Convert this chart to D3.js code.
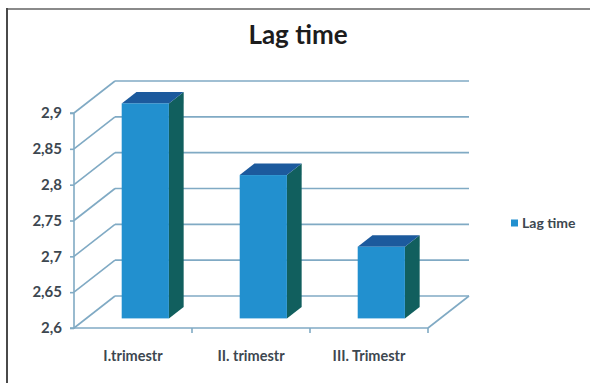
<!DOCTYPE html>
<html>
<head>
<meta charset="utf-8">
<script src="https://cdn.jsdelivr.net/npm/d3@7"></script>
<style>
  html, body { margin: 0; padding: 0; background: #fff; }
  svg { display: block; }
  text { font-family: Lato, "Open Sans", sans-serif; }
</style>
</head>
<body>
<svg id="chart" width="590" height="383"></svg>
<script>
// Chart data
const categories = ["I.trimestr", "II. trimestr", "III. Trimestr"];
const lagTime = [2.9, 2.8, 2.7];
const yTicks = [2.6, 2.65, 2.7, 2.75, 2.8, 2.85, 2.9];
const yTickLabels = ["2,6", "2,65", "2,7", "2,75", "2,8", "2,85", "2,9"];
const seriesName = "Lag time";
const chartTitle = "Lag time";

const svg = d3.select("#chart");
const W = 590, H = 383;

// Front plane of the 3D plot and the oblique depth offset
const x0 = 74, x1 = 428, yBottom = 328, yTop = 113;
const DX = 41, DY = -32;
const project = (x, y, d) => [x + d * DX, y + d * DY];

const x = d3.scaleBand().domain(categories).range([x0, x1]).paddingInner(0.6).paddingOuter(0.3);
const y = d3.scaleLinear().domain([2.6, 2.9]).range([yBottom, yTop]);

// Outer frame (top and left edges)
svg.append("line").attr("x1", 7).attr("x2", W).attr("y1", 9).attr("y2", 9)
  .attr("stroke", "#8a8a8a").attr("stroke-width", 2);
svg.append("line").attr("x1", 7).attr("x2", 7).attr("y1", 8).attr("y2", H)
  .attr("stroke", "#4a4a4a").attr("stroke-width", 2);

// Title
svg.append("text").attr("x", 298).attr("y", 44).attr("text-anchor", "middle")
  .attr("font-size", 26).attr("font-weight", "bold").attr("fill", "#1c1c1c")
  .text(chartTitle);

const gridColor = "#80aac4";
const grid = svg.append("g").attr("stroke", gridColor).attr("stroke-width", 1.6).attr("fill", "none");

// Back wall horizontal gridlines and side-wall diagonals
yTicks.forEach(t => {
  const [bx0, by] = project(x0, y(t), 1);
  const [bx1] = project(x1, y(t), 1);
  grid.append("line").attr("x1", bx0).attr("y1", by).attr("x2", bx1).attr("y2", by);
  grid.append("line").attr("x1", x0).attr("y1", y(t)).attr("x2", bx0).attr("y2", by);
});

// Floor front edge and right edge
const [frx, fry] = project(x1, yBottom, 1);
grid.append("line").attr("x1", x0).attr("y1", yBottom).attr("x2", x1).attr("y2", yBottom);
grid.append("line").attr("x1", x1).attr("y1", yBottom).attr("x2", frx).attr("y2", fry);

// Front value axis
const yAxis = d3.axisLeft(y).tickValues(yTicks)
  .tickFormat((d, i) => yTickLabels[i]).tickSize(4).tickPadding(8);
const yAxisG = svg.append("g").attr("transform", `translate(${x0},0)`).call(yAxis);
yAxisG.select(".domain").attr("stroke", gridColor).attr("stroke-width", 1.6)
  .attr("d", `M-4,${yTop}H0V${yBottom}H-4`);
yAxisG.selectAll(".tick line").attr("stroke", gridColor).attr("stroke-width", 1.6);
yAxisG.selectAll(".tick text").attr("font-size", 15).attr("font-weight", "bold")
  .attr("fill", "#3d4750").attr("font-family", "Lato, sans-serif");

// Category axis along the floor front edge
const xAxis = d3.axisBottom(x).tickSize(0).tickPadding(23);
const xAxisG = svg.append("g").attr("transform", `translate(0,${yBottom})`).call(xAxis);
xAxisG.select(".domain").remove();
xAxisG.selectAll(".tick text").attr("font-size", 14.5).attr("font-weight", "bold")
  .attr("fill", "#3d4750").attr("font-family", "Lato, sans-serif");
// boundary tick marks between categories
const bounds = categories.map((c, i) => x0 + (i + 1) * (x1 - x0) / categories.length);
svg.append("g").selectAll("line").data(bounds).join("line")
  .attr("x1", d => d).attr("x2", d => d).attr("y1", yBottom).attr("y2", yBottom + 5)
  .attr("stroke", gridColor).attr("stroke-width", 1.6);

// 3D columns
const dFront = 0.3, dBack = 0.66;
const bars = svg.append("g");
categories.forEach((c, i) => {
  const xl = x(c), xr = x(c) + x.bandwidth();
  const yt = y(lagTime[i]), yb = y(2.6);
  const P = (px, py, d) => project(px, py, d).join(",");
  // right side face
  bars.append("polygon")
    .attr("points", [P(xr, yt, dFront), P(xr, yt, dBack), P(xr, yb, dBack), P(xr, yb, dFront)].join(" "))
    .attr("fill", "#115f5e");
  // top face
  bars.append("polygon")
    .attr("points", [P(xl, yt, dFront), P(xl, yt, dBack), P(xr, yt, dBack), P(xr, yt, dFront)].join(" "))
    .attr("fill", "#1c5a9d");
  // front face
  const [fx, fy] = project(xl, yt, dFront);
  const [, fyb] = project(xl, yb, dFront);
  bars.append("rect").attr("x", fx).attr("y", fy)
    .attr("width", x.bandwidth()).attr("height", fyb - fy)
    .attr("fill", "#2290cf");
});

// Legend
const legend = svg.append("g").attr("transform", "translate(511,223)");
legend.append("rect").attr("x", 0).attr("y", -3.5).attr("width", 7).attr("height", 7).attr("fill", "#2290cf");
legend.append("text").attr("x", 11).attr("y", 0).attr("dy", "0.35em")
  .attr("font-size", 14).attr("font-weight", "bold").attr("fill", "#3d4750")
  .text(seriesName);
</script>
</body>
</html>
